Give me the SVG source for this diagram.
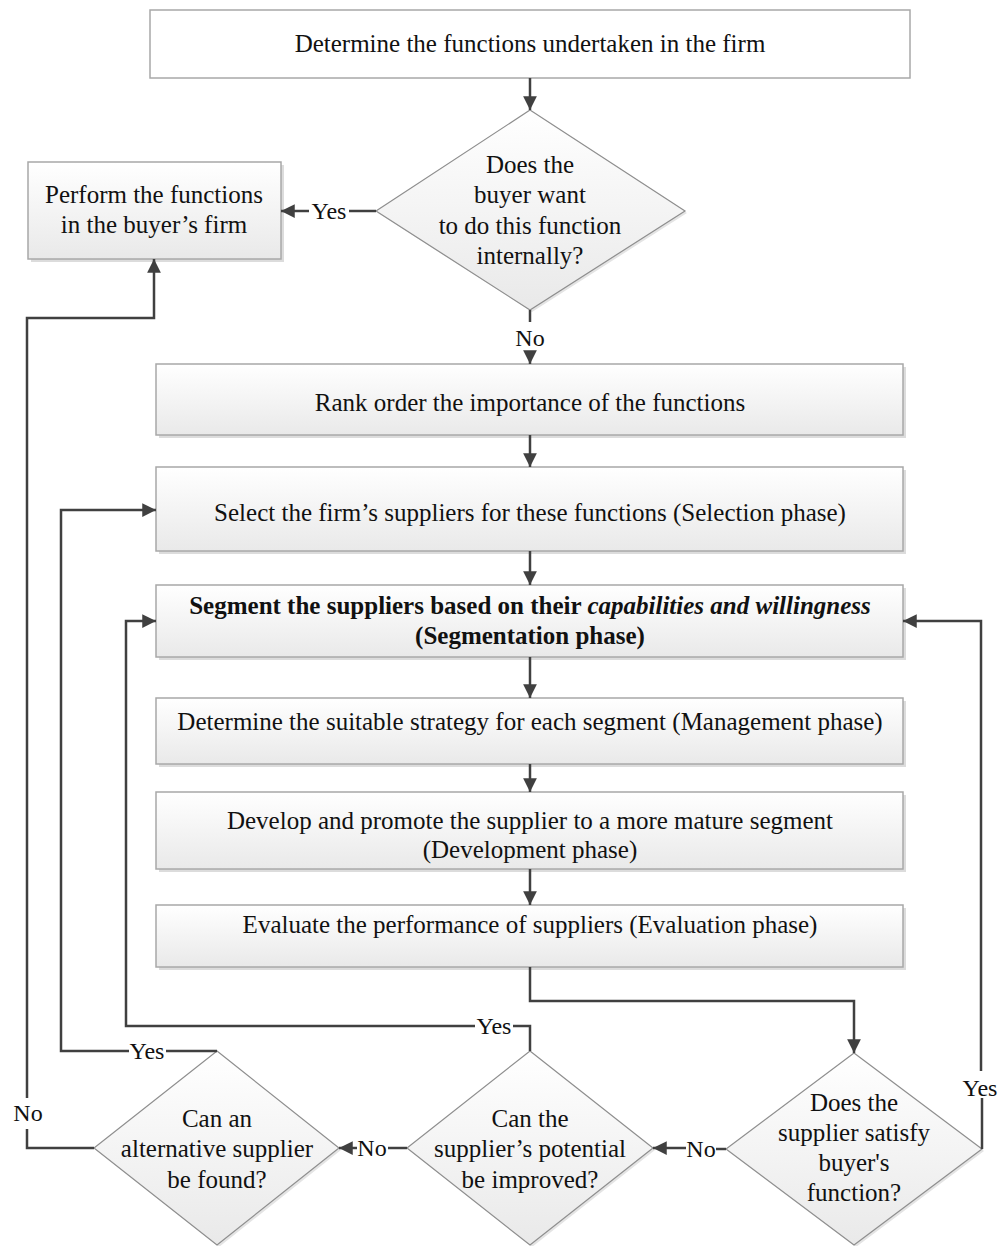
<svg xmlns="http://www.w3.org/2000/svg" width="999" height="1246" viewBox="0 0 999 1246">
<defs>
<linearGradient id="g" x1="0" y1="0" x2="0" y2="1">
<stop offset="0" stop-color="#ffffff"/>
<stop offset="1" stop-color="#e9e9e9"/>
</linearGradient>
<marker id="ah" viewBox="0 0 10 10" refX="10" refY="5" markerWidth="5.5" markerHeight="5.5" markerUnits="strokeWidth" orient="auto">
<path d="M0,0 L10,5 L0,10 Z" fill="#404040"/>
</marker>
<style>
text{font-family:"Liberation Serif","Times New Roman",serif;font-size:25px;fill:#111;text-anchor:middle}
.lbl{font-size:24px}
.box{fill:url(#g);stroke:#a8a8a8;stroke-width:1.5}
.sh{fill:#dcdcdc}
.dsh{fill:#e4e4e4}
.dia{fill:url(#g);stroke:#8e8e8e;stroke-width:1.2}
.c{fill:none;stroke:#404040;stroke-width:2.5}
.ca{fill:none;stroke:#404040;stroke-width:2.5;marker-end:url(#ah)}
</style>
</defs>
<rect width="999" height="1246" fill="#ffffff"/>

<g id="n-determine">
<rect x="150" y="10" width="760" height="68" fill="#ffffff" stroke="#a8a8a8" stroke-width="1.5"/>
<text x="530" y="52">Determine the functions undertaken in the firm</text>
</g>

<g id="n-internal">
<polygon class="dsh" points="532,112 687,213 532,312 378,213"/>
<polygon class="dia" points="530,110 685,211 530,310 376,211"/>
<text x="530" y="173">Does the</text>
<text x="530" y="203">buyer want</text>
<text x="530" y="234">to do this function</text>
<text x="530" y="264">internally?</text>
</g>

<g id="n-perform">
<rect class="sh" x="31" y="165" width="253" height="97"/>
<rect class="box" x="28" y="162" width="253" height="97"/>
<text x="154" y="203">Perform the functions</text>
<text x="154" y="233">in the buyer’s firm</text>
</g>

<g id="n-rank">
<rect class="sh" x="159" y="367" width="747" height="71"/>
<rect class="box" x="156" y="364" width="747" height="71"/>
<text x="530" y="411">Rank order the importance of the functions</text>
</g>

<g id="n-select">
<rect class="sh" x="159" y="470" width="747" height="84"/>
<rect class="box" x="156" y="467" width="747" height="84"/>
<text x="530" y="521">Select the firm’s suppliers for these functions (Selection phase)</text>
</g>

<g id="n-segment">
<rect class="sh" x="159" y="588" width="747" height="72"/>
<rect class="box" x="156" y="585" width="747" height="72"/>
<text x="530" y="614" font-weight="bold">Segment the suppliers based on their <tspan font-style="italic">capabilities and willingness</tspan></text>
<text x="530" y="644" font-weight="bold">(Segmentation phase)</text>
</g>

<g id="n-management">
<rect class="sh" x="159" y="701" width="747" height="66"/>
<rect class="box" x="156" y="698" width="747" height="66"/>
<text x="530" y="730">Determine the suitable strategy for each segment (Management phase)</text>
</g>

<g id="n-development">
<rect class="sh" x="159" y="795" width="747" height="77"/>
<rect class="box" x="156" y="792" width="747" height="77"/>
<text x="530" y="829">Develop and promote the supplier to a more mature segment</text>
<text x="530" y="858">(Development phase)</text>
</g>

<g id="n-evaluation">
<rect class="sh" x="159" y="908" width="747" height="62"/>
<rect class="box" x="156" y="905" width="747" height="62"/>
<text x="530" y="933">Evaluate the performance of suppliers (Evaluation phase)</text>
</g>

<g id="n-satisfy">
<polygon class="dsh" points="856,1055 984,1151 856,1247 728,1151"/>
<polygon class="dia" points="854,1053 982,1149 854,1245 726,1149"/>
<text x="854" y="1111">Does the</text>
<text x="854" y="1141">supplier satisfy</text>
<text x="854" y="1171">buyer's</text>
<text x="854" y="1201">function?</text>
</g>

<g id="n-improve">
<polygon class="dsh" points="532,1053 655,1150 532,1247 409,1150"/>
<polygon class="dia" points="530,1051 653,1148 530,1245 407,1148"/>
<text x="530" y="1127">Can the</text>
<text x="530" y="1157">supplier’s potential</text>
<text x="530" y="1188">be improved?</text>
</g>

<g id="n-alternative">
<polygon class="dsh" points="219,1053 341,1150 219,1247 96,1150"/>
<polygon class="dia" points="217,1051 339,1148 217,1245 94,1148"/>
<text x="217" y="1127">Can an</text>
<text x="217" y="1157">alternative supplier</text>
<text x="217" y="1188">be found?</text>
</g>

<g id="connectors">
<path class="ca" d="M530,78 V110"/>
<path class="c" d="M376,211 H349"/>
<path class="ca" d="M309,211 H281"/>
<text class="lbl" x="329" y="219">Yes</text>
<path class="c" d="M530,310 V322"/>
<text class="lbl" x="530" y="346">No</text>
<path class="ca" d="M530,352 V364"/>
<path class="ca" d="M530,435 V467"/>
<path class="ca" d="M530,551 V585"/>
<path class="ca" d="M530,657 V698"/>
<path class="ca" d="M530,764 V792"/>
<path class="ca" d="M530,869 V905"/>
<path class="ca" d="M530,967 V1001 H854 V1053"/>
<path class="c" d="M982,1149 V1098"/>
<text class="lbl" x="980" y="1096">Yes</text>
<path class="ca" d="M981,1071 V621 H903"/>
<path class="c" d="M726,1149 H716"/>
<text class="lbl" x="701" y="1157">No</text>
<path class="ca" d="M686,1148 H653"/>
<path class="c" d="M530,1051 V1026 H513"/>
<text class="lbl" x="494" y="1034">Yes</text>
<path class="ca" d="M475,1026 H126 V621 H156"/>
<path class="c" d="M407,1148 H388"/>
<text class="lbl" x="372" y="1156">No</text>
<path class="ca" d="M357,1148 H339"/>
<path class="c" d="M217,1051 H166"/>
<text class="lbl" x="147" y="1059">Yes</text>
<path class="ca" d="M129,1051 H61 V510 H156"/>
<path class="c" d="M94,1148 H27 V1129"/>
<text class="lbl" x="28" y="1121">No</text>
<path class="ca" d="M27,1098 V318 H154 V259"/>
</g>
</svg>
